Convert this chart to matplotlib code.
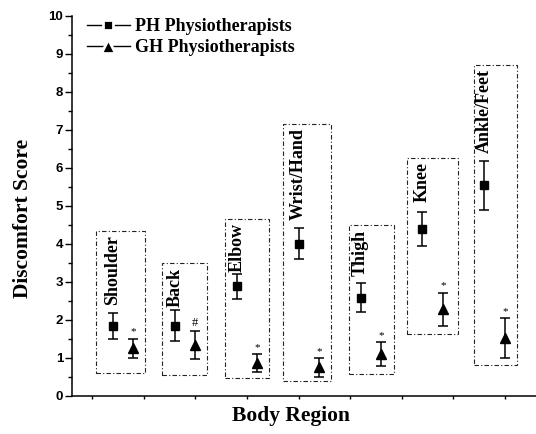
import numpy as np
import matplotlib
matplotlib.use("Agg")
import matplotlib.pyplot as plt
from matplotlib.patches import Rectangle
from matplotlib.lines import Line2D
from matplotlib.ticker import MultipleLocator

regions = ["Shoulder", "Back", "Elbow", "Wrist/Hand", "Thigh", "Knee", "Ankle/Feet"]
ph_mean = [1.83, 1.84, 2.88, 4.00, 2.58, 4.38, 5.53]
ph_err = [0.35, 0.41, 0.33, 0.40, 0.39, 0.45, 0.64]
gh_mean = [1.25, 1.33, 0.85, 0.74, 1.09, 2.27, 1.52]
gh_err = [0.25, 0.37, 0.24, 0.24, 0.31, 0.44, 0.52]
sig_marks = ["*", "#", "*", "*", "*", "*", "*"]

# dash-dot frames around each region
box_left = [1.08, 2.36, 3.58, 4.69, 5.97, 7.11, 8.40]
box_right = [2.03, 3.23, 4.42, 5.62, 6.85, 8.08, 9.24]
box_bottom = [0.58, 0.53, 0.47, 0.37, 0.57, 1.62, 0.81]
box_top = [4.33, 3.48, 4.65, 7.14, 4.48, 6.26, 8.71]

serif = "Liberation Serif"
sans = "Liberation Sans"

fig = plt.figure(figsize=(5.36, 4.34), dpi=100)
ax = fig.add_axes([0.1334, 0.0887, 0.8666, 0.8751])

x_ph = 1.4 + 1.2 * np.arange(len(regions))
x_gh = x_ph + 0.4

ax.errorbar(x_ph, ph_mean, yerr=ph_err, fmt="s", color="black", ms=6,
            elinewidth=1.1, capsize=3.3, capthick=1.1)
ax.errorbar(x_gh, gh_mean, yerr=gh_err, fmt="^", color="black", ms=6.5,
            elinewidth=1.1, capsize=3.3, capthick=1.1)

for i, name in enumerate(regions):
    ax.add_patch(Rectangle((box_left[i], box_bottom[i]), box_right[i] - box_left[i],
                           box_top[i] - box_bottom[i], fill=False, edgecolor="#222222",
                           lw=0.8, linestyle=(0, (4, 2, 1, 2))))
    ax.annotate(name, (x_ph[i], box_top[i]), xytext=(0, -3), textcoords="offset points",
                rotation=90, ha="center", va="top", fontsize=13, fontweight="bold",
                family=serif)
    fs = 9 if sig_marks[i] == "#" else 8
    ax.annotate(sig_marks[i], (x_gh[i], gh_mean[i] + gh_err[i]), xytext=(0, 1.5),
                textcoords="offset points", ha="center", va="bottom", fontsize=fs,
                family=serif)

ax.set_xlim(0.6, 9.6)
ax.set_ylim(0, 10)
ax.xaxis.set_major_locator(MultipleLocator(1))
ax.yaxis.set_major_locator(MultipleLocator(1))
ax.yaxis.set_minor_locator(MultipleLocator(0.5))
ax.tick_params(axis="x", which="major", direction="out", length=2.5, width=1, labelbottom=False)
ax.tick_params(axis="y", which="major", direction="out", length=5, width=1, pad=1)
ax.tick_params(axis="y", which="minor", direction="out", length=3, width=1)
for lab in ax.get_yticklabels():
    lab.set_fontfamily(sans)
    lab.set_fontweight("bold")
    lab.set_fontsize(9.5)

for s in ["top", "right"]:
    ax.spines[s].set_visible(False)
for s in ["left", "bottom"]:
    ax.spines[s].set_linewidth(1.1)

ax.set_ylabel("Discomfort Score", fontsize=15.5, fontweight="bold", family=serif)
ax.set_xlabel("Body Region", fontsize=15.5, fontweight="bold", family=serif)
ax.yaxis.set_label_coords(-0.083, 0.467)
ax.xaxis.set_label_coords(0.4715, -0.028)

# legend handles: short line with a gap around the marker
handles = [Line2D([], [], color="black", lw=1, marker="s", ms=7, mfc="black",
                  mec="white", mew=2),
           Line2D([], [], color="black", lw=1, marker="^", ms=9.5, mfc="black",
                  mec="white", mew=2)]
leg = ax.legend(handles, ["PH Physiotherapists", "GH Physiotherapists"],
                loc="upper left", bbox_to_anchor=(0.162, 0.958), bbox_transform=fig.transFigure,
                frameon=False, borderpad=0, borderaxespad=0, handlelength=2.4,
                handletextpad=0.25, labelspacing=0.2,
                prop={"family": serif, "weight": "bold", "size": 13})

fig.savefig("out.png", dpi=100)
